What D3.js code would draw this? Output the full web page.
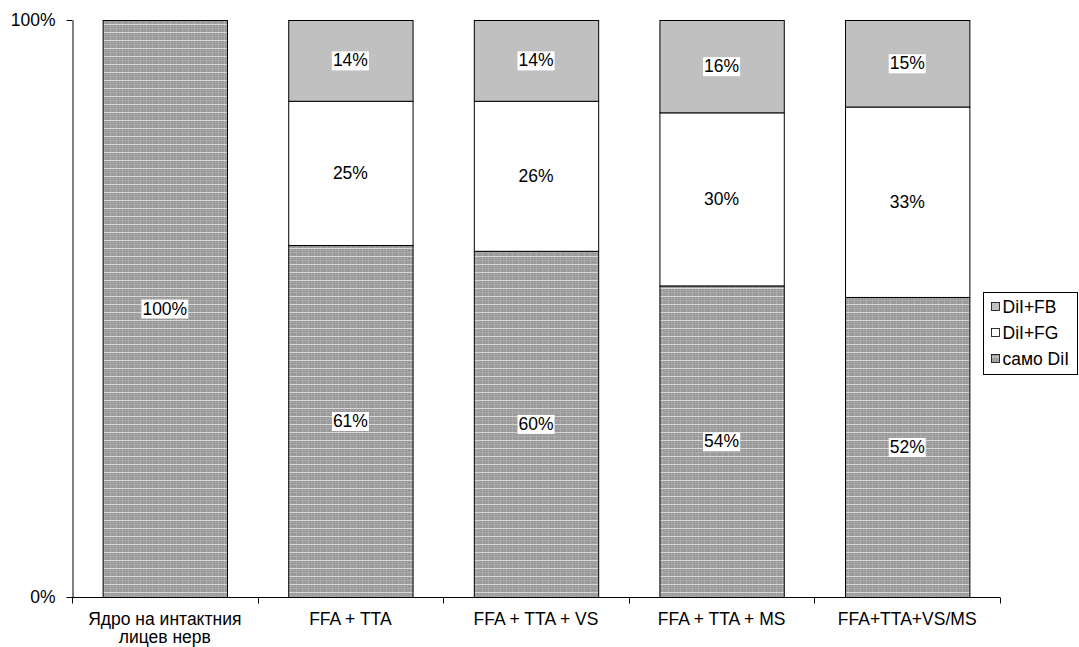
<!DOCTYPE html>
<html>
<head>
<meta charset="utf-8">
<script src="https://cdn.jsdelivr.net/npm/d3@7"></script>
<style>
  html, body { margin: 0; padding: 0; background: #fff; }
  svg { display: block; font-family: "Liberation Sans", Arial, sans-serif; }
</style>
</head>
<body>
<svg id="chart" width="1079" height="647"></svg>
<script>
// Groups along the x axis (two-line label for the first group)
const categories = [
  ["Ядро на интактния", "лицев нерв"],
  ["FFA + TTA"],
  ["FFA + TTA + VS"],
  ["FFA + TTA + MS"],
  ["FFA+TTA+VS/MS"]
];

// Stacked shares (%) from bottom to top
const samoDil = [100, 61, 60, 54, 52];
const dilFG   = [0, 25, 26, 30, 33];
const dilFB   = [0, 14, 14, 16, 15];

const seriesNames = ["само DiI", "DiI+FG", "DiI+FB"];
const yTickLabels = ["0%", "100%"];
const yTickValues = [0, 100];

const FS = 17.5;
const svg = d3.select("#chart");
const plotLeft = 72, plotRight = 1000, plotTop = 20, plotBottom = 597;

// Fill pattern for the "само DiI" series
const defs = svg.append("defs");
const pat = defs.append("pattern")
  .attr("id", "dots")
  .attr("patternUnits", "userSpaceOnUse")
  .attr("width", 6).attr("height", 8);
pat.append("rect").attr("width", 6).attr("height", 8).attr("fill", "#9b9b9b");
pat.append("rect").attr("x", 0).attr("y", 0).attr("width", 6).attr("height", 1).attr("fill", "#d6d6d6");
pat.append("rect").attr("x", 0).attr("y", 4).attr("width", 6).attr("height", 1).attr("fill", "#a8a8a8");
pat.append("rect").attr("x", 2).attr("y", 1).attr("width", 1).attr("height", 7).attr("fill", "#acacac");
pat.append("rect").attr("x", 5).attr("y", 2).attr("width", 1).attr("height", 1).attr("fill", "#b4b4b4");

const fills = ["url(#dots)", "#ffffff", "#c0c0c0"];

const x = d3.scaleBand()
  .domain(d3.range(categories.length))
  .range([plotLeft, plotRight])
  .paddingInner(0.33)
  .paddingOuter(0.165);

const y = d3.scaleLinear().domain([0, 100]).range([plotBottom, plotTop]);

// Build stacked rows
const rows = categories.map((c, i) => ({ i, "само DiI": samoDil[i], "DiI+FG": dilFG[i], "DiI+FB": dilFB[i] }));
const stack = d3.stack().keys(seriesNames)(rows);

// Bars
stack.forEach((layer, li) => {
  const g = svg.append("g");
  layer.forEach((d, i) => {
    const v = d[1] - d[0];
    if (v <= 0) return;
    g.append("rect")
      .attr("x", x(i) + 0.5)
      .attr("y", y(d[1]) + 0.5)
      .attr("width", x.bandwidth())
      .attr("height", y(d[0]) - y(d[1]))
      .attr("fill", fills[li])
      .attr("stroke", "#000")
      .attr("stroke-width", 1);
  });
});

// Value labels with white backing
stack.forEach((layer, li) => {
  layer.forEach((d, i) => {
    const v = d[1] - d[0];
    if (v <= 0) return;
    const cx = x(i) + x.bandwidth() / 2;
    const cy = (y(d[0]) + y(d[1])) / 2;
    const g = svg.append("g");
    const t = g.append("text")
      .attr("x", cx).attr("y", cy)
      .attr("text-anchor", "middle")
      .attr("dominant-baseline", "central")
      .attr("font-size", FS)
      .attr("fill", "#000")
      .text(v + "%");
    const bb = t.node().getBBox();
    if (li !== 1) {
      g.insert("rect", "text")
        .attr("x", bb.x - 1).attr("y", bb.y + 1)
        .attr("width", bb.width + 2).attr("height", bb.height - 1)
        .attr("fill", "#fff");
    }
  });
});

// Y axis
const yAxis = d3.axisLeft(y).tickValues(yTickValues).tickFormat((d, i) => yTickLabels[i]).tickSize(6).tickSizeOuter(0);
const gy = svg.append("g").attr("transform", "translate(" + (plotLeft + 0.5) + ",0)").call(yAxis);
gy.attr("font-size", null).attr("font-family", null);
gy.selectAll("text").attr("font-size", FS).attr("fill", "#000").attr("dx", "-8");
gy.selectAll("line, path").attr("stroke", "#000");

// X axis with ticks at group boundaries
const gx = svg.append("g").attr("transform", "translate(0," + (plotBottom + 0.5) + ")");
gx.append("line").attr("x1", plotLeft).attr("x2", plotRight).attr("stroke", "#000");
const step = x.step();
d3.range(categories.length + 1).forEach(k => {
  const px = Math.round(plotLeft + k * step) + 0.5;
  gx.append("line").attr("x1", px).attr("x2", px).attr("y1", 0).attr("y2", 6).attr("stroke", "#000");
});
categories.forEach((lines, i) => {
  const t = gx.append("text")
    .attr("x", x(i) + x.bandwidth() / 2)
    .attr("y", 27)
    .attr("text-anchor", "middle")
    .attr("font-size", FS)
    .attr("fill", "#000");
  lines.forEach((ln, j) => {
    t.append("tspan").attr("x", x(i) + x.bandwidth() / 2).attr("dy", j === 0 ? 0 : 18).text(ln);
  });
});

// Legend
const lg = svg.append("g").attr("transform", "translate(983.5,292.5)");
lg.append("rect").attr("width", 94).attr("height", 82).attr("fill", "#fff").attr("stroke", "#000");
const legendItems = [
  { name: "DiI+FB", fill: fills[2] },
  { name: "DiI+FG", fill: fills[1] },
  { name: "само DiI", fill: fills[0] }
];
legendItems.forEach((it, k) => {
  const cy = 14 + k * 26;
  lg.append("rect").attr("x", 8).attr("y", cy - 4).attr("width", 8).attr("height", 8)
    .attr("fill", it.fill).attr("stroke", "#000").attr("stroke-width", 0.8);
  lg.append("text").attr("x", 19).attr("y", cy).attr("dominant-baseline", "central")
    .attr("font-size", FS).attr("fill", "#000").text(it.name);
});
</script>
</body>
</html>
